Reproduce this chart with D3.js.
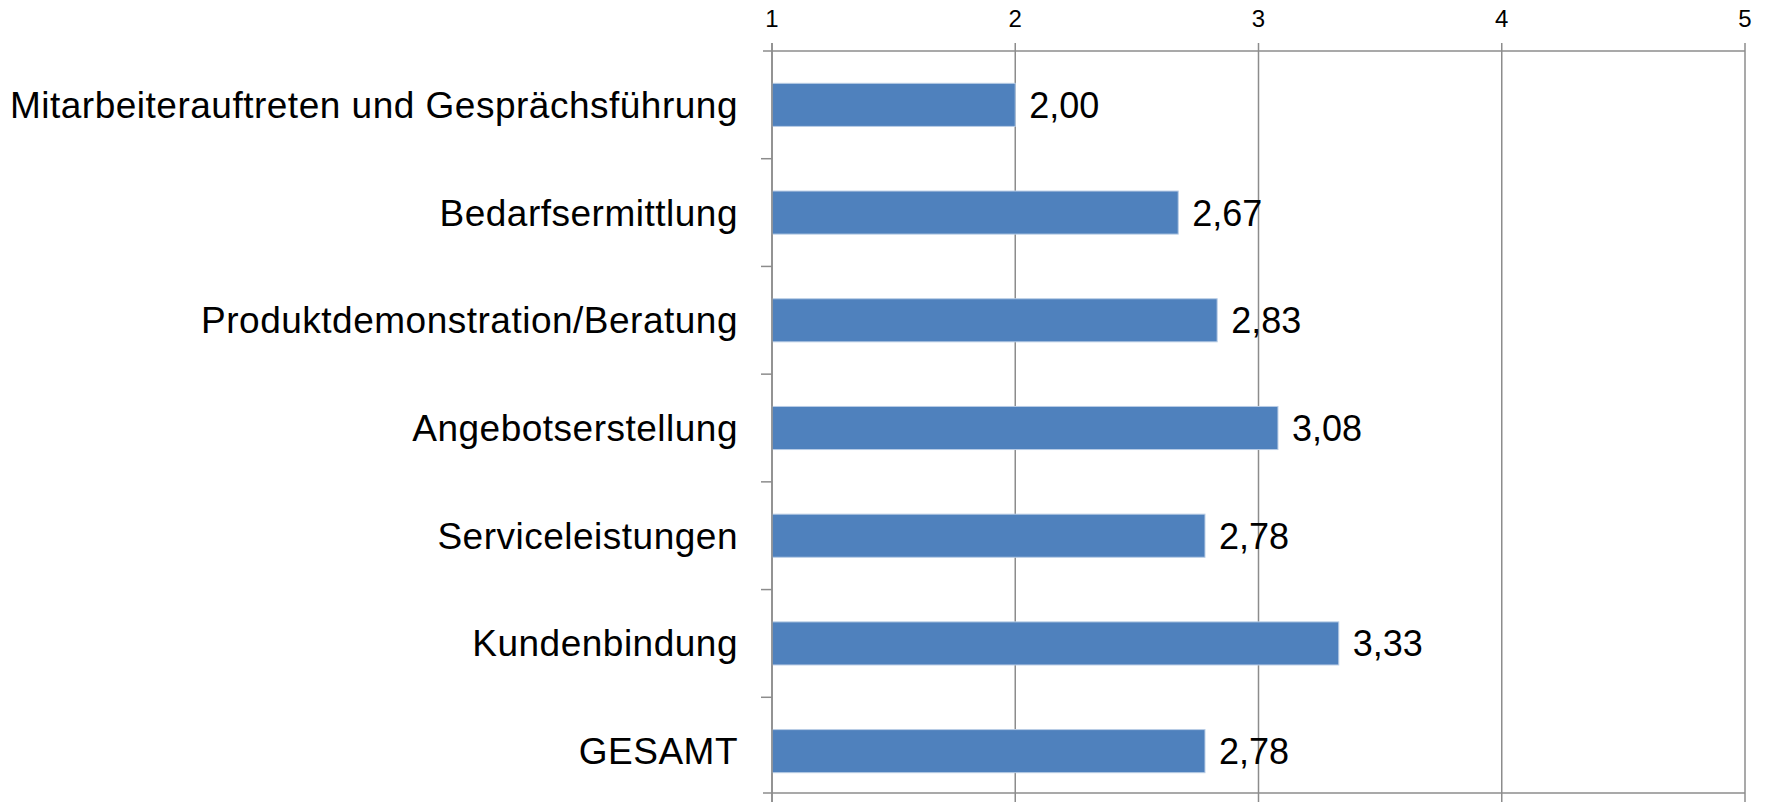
<!DOCTYPE html>
<html>
<head>
<meta charset="utf-8">
<script src="https://cdn.jsdelivr.net/npm/d3@7"></script>
<style>
  body { margin: 0; background: #fff; }
  text { font-family: "Liberation Sans", Arial, sans-serif; fill: #000; }
</style>
</head>
<body>
<div id="chart"></div>
<script>
// data
const categories = [
    "Mitarbeiterauftreten und Gesprächsführung",
    "Bedarfsermittlung",
    "Produktdemonstration/Beratung",
    "Angebotserstellung",
    "Serviceleistungen",
    "Kundenbindung",
    "GESAMT"
];
const values = [2.00, 2.67, 2.83, 3.08, 2.78, 3.33, 2.78];
const xTicks = [1, 2, 3, 4, 5];

const width = 1765, height = 802;
// the category bands run slightly past the bottom frame line (cropped chart)
const plotLeft = 772, plotRight = 1745, plotTop = 51, bandEnd = 805, frameBottom = 793;
const gridColor = "#8c8c8c";

let svg = d3.select("#chart")
            .append("svg")
            .attr("width", width)
            .attr("height", height)

let x = d3.scaleLinear().domain([1, 5]).range([plotLeft, plotRight])
let y = d3.scaleBand().domain(categories).range([plotTop, bandEnd]).paddingInner(0.6).paddingOuter(0.3)
let step = y.step();

// vertical gridlines (also the ticks above / below the frame)
svg.selectAll("line.grid")
   .data(xTicks)
   .enter()
   .append("line")
   .attr("class", "grid")
   .attr("x1", d => x(d))
   .attr("x2", d => x(d))
   .attr("y1", plotTop - 8)
   .attr("y2", height)
   .style("stroke", gridColor)
   .style("stroke-width", 1.5)

// top axis line and bottom frame line
svg.append("line")
   .attr("x1", plotLeft - 9).attr("x2", plotRight)
   .attr("y1", plotTop).attr("y2", plotTop)
   .style("stroke", gridColor).style("stroke-width", 1.5)
svg.append("line")
   .attr("x1", plotLeft - 9).attr("x2", plotRight)
   .attr("y1", frameBottom).attr("y2", frameBottom)
   .style("stroke", gridColor).style("stroke-width", 1.5)

// category tick marks on left axis (between bands)
svg.selectAll("line.ctick")
   .data(d3.range(1, categories.length))
   .enter()
   .append("line")
   .attr("class", "ctick")
   .attr("x1", plotLeft - 11)
   .attr("x2", plotLeft)
   .attr("y1", i => plotTop + i * step)
   .attr("y2", i => plotTop + i * step)
   .style("stroke", gridColor)
   .style("stroke-width", 1.5)

// x tick labels on top
svg.selectAll("text.xtick")
   .data(xTicks)
   .enter()
   .append("text")
   .attr("class", "xtick")
   .attr("x", d => x(d))
   .attr("y", 27)
   .attr("text-anchor", "middle")
   .style("font-size", "24px")
   .text(d => d)

// bars
svg.selectAll("rect.bar")
   .data(values)
   .enter()
   .append("rect")
   .attr("class", "bar")
   .attr("x", x(1))
   .attr("y", (d, i) => y(categories[i]))
   .attr("width", d => x(d) - x(1))
   .attr("height", y.bandwidth())
   .style("fill", "#4f81bd")
   .style("stroke", "#b9cde5")
   .style("stroke-width", 1)

// value labels
svg.selectAll("text.val")
   .data(values)
   .enter()
   .append("text")
   .attr("class", "val")
   .attr("x", d => x(d) + 14)
   .attr("y", (d, i) => y(categories[i]) + y.bandwidth() / 2 + 13)
   .style("font-size", "36px")
   .text(d => d.toFixed(2).replace(".", ","))

// left axis line
svg.append("line")
   .attr("x1", plotLeft).attr("x2", plotLeft)
   .attr("y1", plotTop - 8).attr("y2", height)
   .style("stroke", gridColor).style("stroke-width", 1.5)

// category labels
svg.selectAll("text.cat")
   .data(categories)
   .enter()
   .append("text")
   .attr("class", "cat")
   .attr("x", plotLeft - 34)
   .attr("y", d => y(d) + y.bandwidth() / 2 + 13)
   .attr("text-anchor", "end")
   .style("font-size", "37px")
   .style("letter-spacing", "0.5px")
   .text(d => d)
</script>
</body>
</html>
